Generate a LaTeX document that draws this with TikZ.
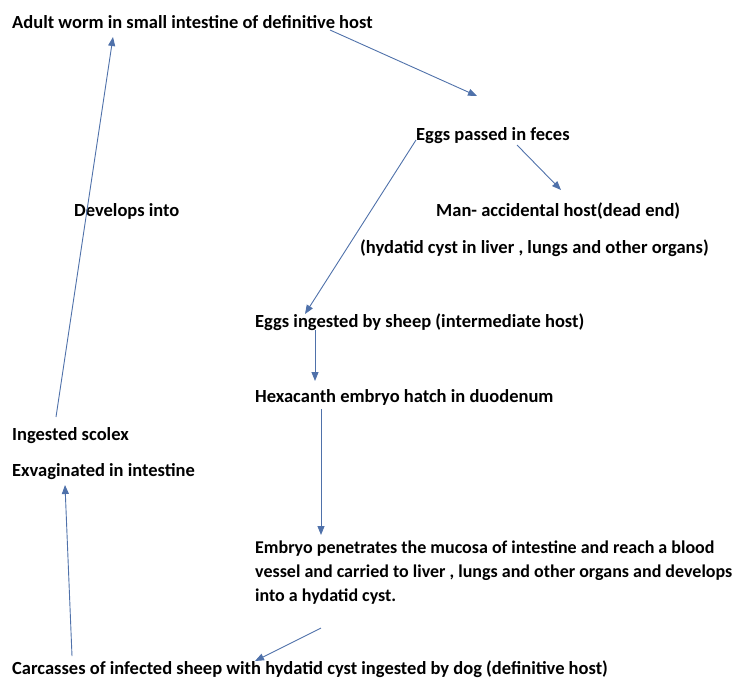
\documentclass[tikz,border=0pt]{standalone}
\usepackage{fontspec}
\setmainfont{Carlito}
\usetikzlibrary{arrows.meta}
\definecolor{arrowblue}{RGB}{79,113,170}
\tikzset{
  lbl/.style={anchor=base west, inner sep=0pt, font=\fontsize{18.5}{24}\selectfont\bfseries, text=black},
  conn/.style={draw=arrowblue, line width=0.9pt, -{Triangle[length=9pt,width=7pt]}},
}
\begin{document}
\begin{tikzpicture}[x=1pt,y=-1pt]
\useasboundingbox (0,0) rectangle (744,678);
\node[lbl] (adult) at (12,28) {Adult worm in small intestine of definitive host};
\node[lbl] (eggs) at (416,140) {Eggs passed in feces};
\node[lbl] (dev) at (74,216) {Develops into};
\node[lbl] (man) at (436,216) {Man- accidental host(dead end)};
\node[lbl] (hyd) at (360,253) {(hydatid cyst in liver , lungs and other organs)};
\node[lbl] (sheep) at (255,327) {Eggs ingested by sheep (intermediate host)};
\node[lbl] (hexa) at (255,402) {Hexacanth embryo hatch in duodenum};
\node[lbl] (scolex) at (12,440) {Ingested scolex};
\node[lbl] (exv) at (12,476) {Exvaginated in intestine};
\node[lbl, align=left, anchor=base west, font=\fontsize{18}{24}\selectfont\bfseries] (emb) at (255,601) {Embryo penetrates the mucosa of intestine and reach a blood\\vessel and carried to liver , lungs and other organs and develops\\into a hydatid cyst.};
\node[lbl] (carc) at (12,674) {Carcasses of infected sheep with hydatid cyst ingested by dog (definitive host)};

\coordinate (a1s) at (330,30);  \coordinate (a1e) at (477,96);
\coordinate (a2s) at (517,145); \coordinate (a2e) at (561,190);
\coordinate (a3s) at (416,140); \coordinate (a3e) at (305,314);
\coordinate (a4s) at (315,330); \coordinate (a4e) at (315,381);
\coordinate (a5s) at (321,409); \coordinate (a5e) at (321,535);
\coordinate (a6s) at (321,628); \coordinate (a6e) at (255,661);
\coordinate (a7s) at (72,656);  \coordinate (a7e) at (65,485);
\coordinate (a8s) at (56,417);  \coordinate (a8e) at (113,37);

\draw[conn] (a1s) -- (a1e);
\draw[conn] (a2s) -- (a2e);
\draw[conn] (a3s) -- (a3e);
\draw[conn] (a4s) -- (a4e);
\draw[conn] (a5s) -- (a5e);
\draw[conn] (a6s) -- (a6e);
\draw[conn] (a7s) -- (a7e);
\draw[conn] (a8s) -- (a8e);
\end{tikzpicture}
\end{document}
